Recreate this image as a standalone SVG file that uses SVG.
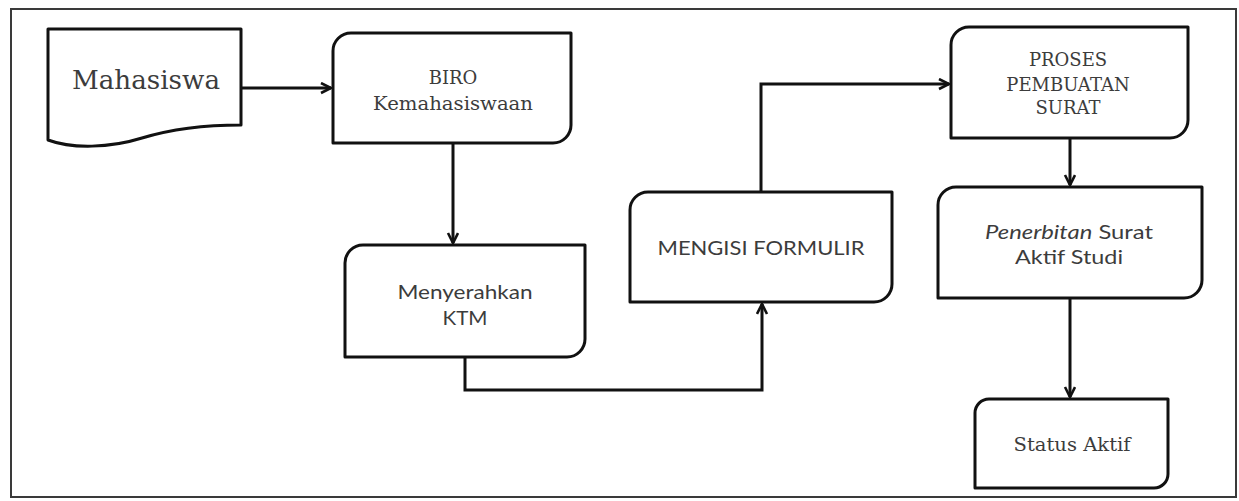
<svg xmlns="http://www.w3.org/2000/svg" width="1239" height="501" viewBox="0 0 1239 501">
  <style>
    .bg { fill: #ffffff; }
    .frame { fill: none; stroke: #3a3a3a; stroke-width: 2; }
    .node { fill: #ffffff; stroke: #111111; stroke-width: 3; stroke-linejoin: round; }
    .edge { fill: none; stroke: #111111; stroke-width: 3; marker-end: url(#arrow); }
    .serif { font-family: "DejaVu Serif", "Liberation Serif", serif; fill: #3c3c3c; text-anchor: middle; }
    .sans { font-family: "Lato", "Liberation Sans", sans-serif; fill: #3c3c3c; text-anchor: middle; }
  </style>
  <defs>
    <marker id="arrow" markerUnits="userSpaceOnUse" markerWidth="14" markerHeight="14" refX="11" refY="6" orient="auto">
      <path d="M1,1 L11,6 L1,11" fill="none" stroke="#111111" stroke-width="2.6" stroke-linejoin="miter"/>
    </marker>
  </defs>

  <rect class="bg" x="0" y="0" width="1239" height="501"/>
  <rect class="frame" x="11" y="9" width="1225" height="488"/>

  <g id="connectors">
    <path class="edge" d="M242,88 H331"/>
    <path class="edge" d="M453,143 V243"/>
    <path class="edge" d="M465,357 V390 H762 V304"/>
    <path class="edge" d="M761,192 V84 H949"/>
    <path class="edge" d="M1070,138 V185"/>
    <path class="edge" d="M1070,298 V397"/>
  </g>

  <g id="mahasiswa">
    <path class="node" d="M48,29 H241 V125 C205,125 175,128 142,138 C110,148 72,149 48,140 Z"/>
    <text class="serif" x="146" y="89" font-size="26" textLength="148" lengthAdjust="spacingAndGlyphs">Mahasiswa</text>
  </g>

  <g id="biro">
    <path class="node" d="M351,33 H571 V125 A18,18 0 0 1 553,143 H333 V51 A18,18 0 0 1 351,33 Z"/>
    <text class="serif" x="453" y="84" font-size="18">BIRO</text>
    <text class="serif" x="453" y="110" font-size="19" textLength="160" lengthAdjust="spacingAndGlyphs">Kemahasiswaan</text>
  </g>

  <g id="menyerahkan">
    <path class="node" d="M363,245 H585 V339 A18,18 0 0 1 567,357 H345 V263 A18,18 0 0 1 363,245 Z"/>
    <text class="sans" x="465" y="299" font-size="19" textLength="135" lengthAdjust="spacingAndGlyphs">Menyerahkan</text>
    <text class="sans" x="465" y="325" font-size="19" textLength="45" lengthAdjust="spacingAndGlyphs">KTM</text>
  </g>

  <g id="mengisi">
    <path class="node" d="M648,192 H892 V284 A18,18 0 0 1 874,302 H630 V210 A18,18 0 0 1 648,192 Z"/>
    <text class="sans" x="761" y="255" font-size="19" textLength="207" lengthAdjust="spacingAndGlyphs">MENGISI FORMULIR</text>
  </g>

  <g id="proses">
    <path class="node" d="M969,27 H1188 V120 A18,18 0 0 1 1170,138 H951 V45 A18,18 0 0 1 969,27 Z"/>
    <text class="serif" x="1068" y="66" font-size="18">PROSES</text>
    <text class="serif" x="1068" y="91" font-size="18">PEMBUATAN</text>
    <text class="serif" x="1068" y="114" font-size="18">SURAT</text>
  </g>

  <g id="penerbitan">
    <path class="node" d="M956,187 H1202 V280 A18,18 0 0 1 1184,298 H938 V205 A18,18 0 0 1 956,187 Z"/>
    <text class="sans" x="1069" y="239" font-size="19" textLength="168" lengthAdjust="spacingAndGlyphs"><tspan font-style="italic">Penerbitan</tspan> Surat</text>
    <text class="sans" x="1069" y="264" font-size="19" textLength="108" lengthAdjust="spacingAndGlyphs">Aktif  Studi</text>
  </g>

  <g id="status">
    <path class="node" d="M989,399 H1168 V474 A14,14 0 0 1 1154,488 H975 V413 A14,14 0 0 1 989,399 Z"/>
    <text class="serif" x="1072" y="451" font-size="18" textLength="117" lengthAdjust="spacingAndGlyphs">Status Aktif</text>
  </g>
</svg>
